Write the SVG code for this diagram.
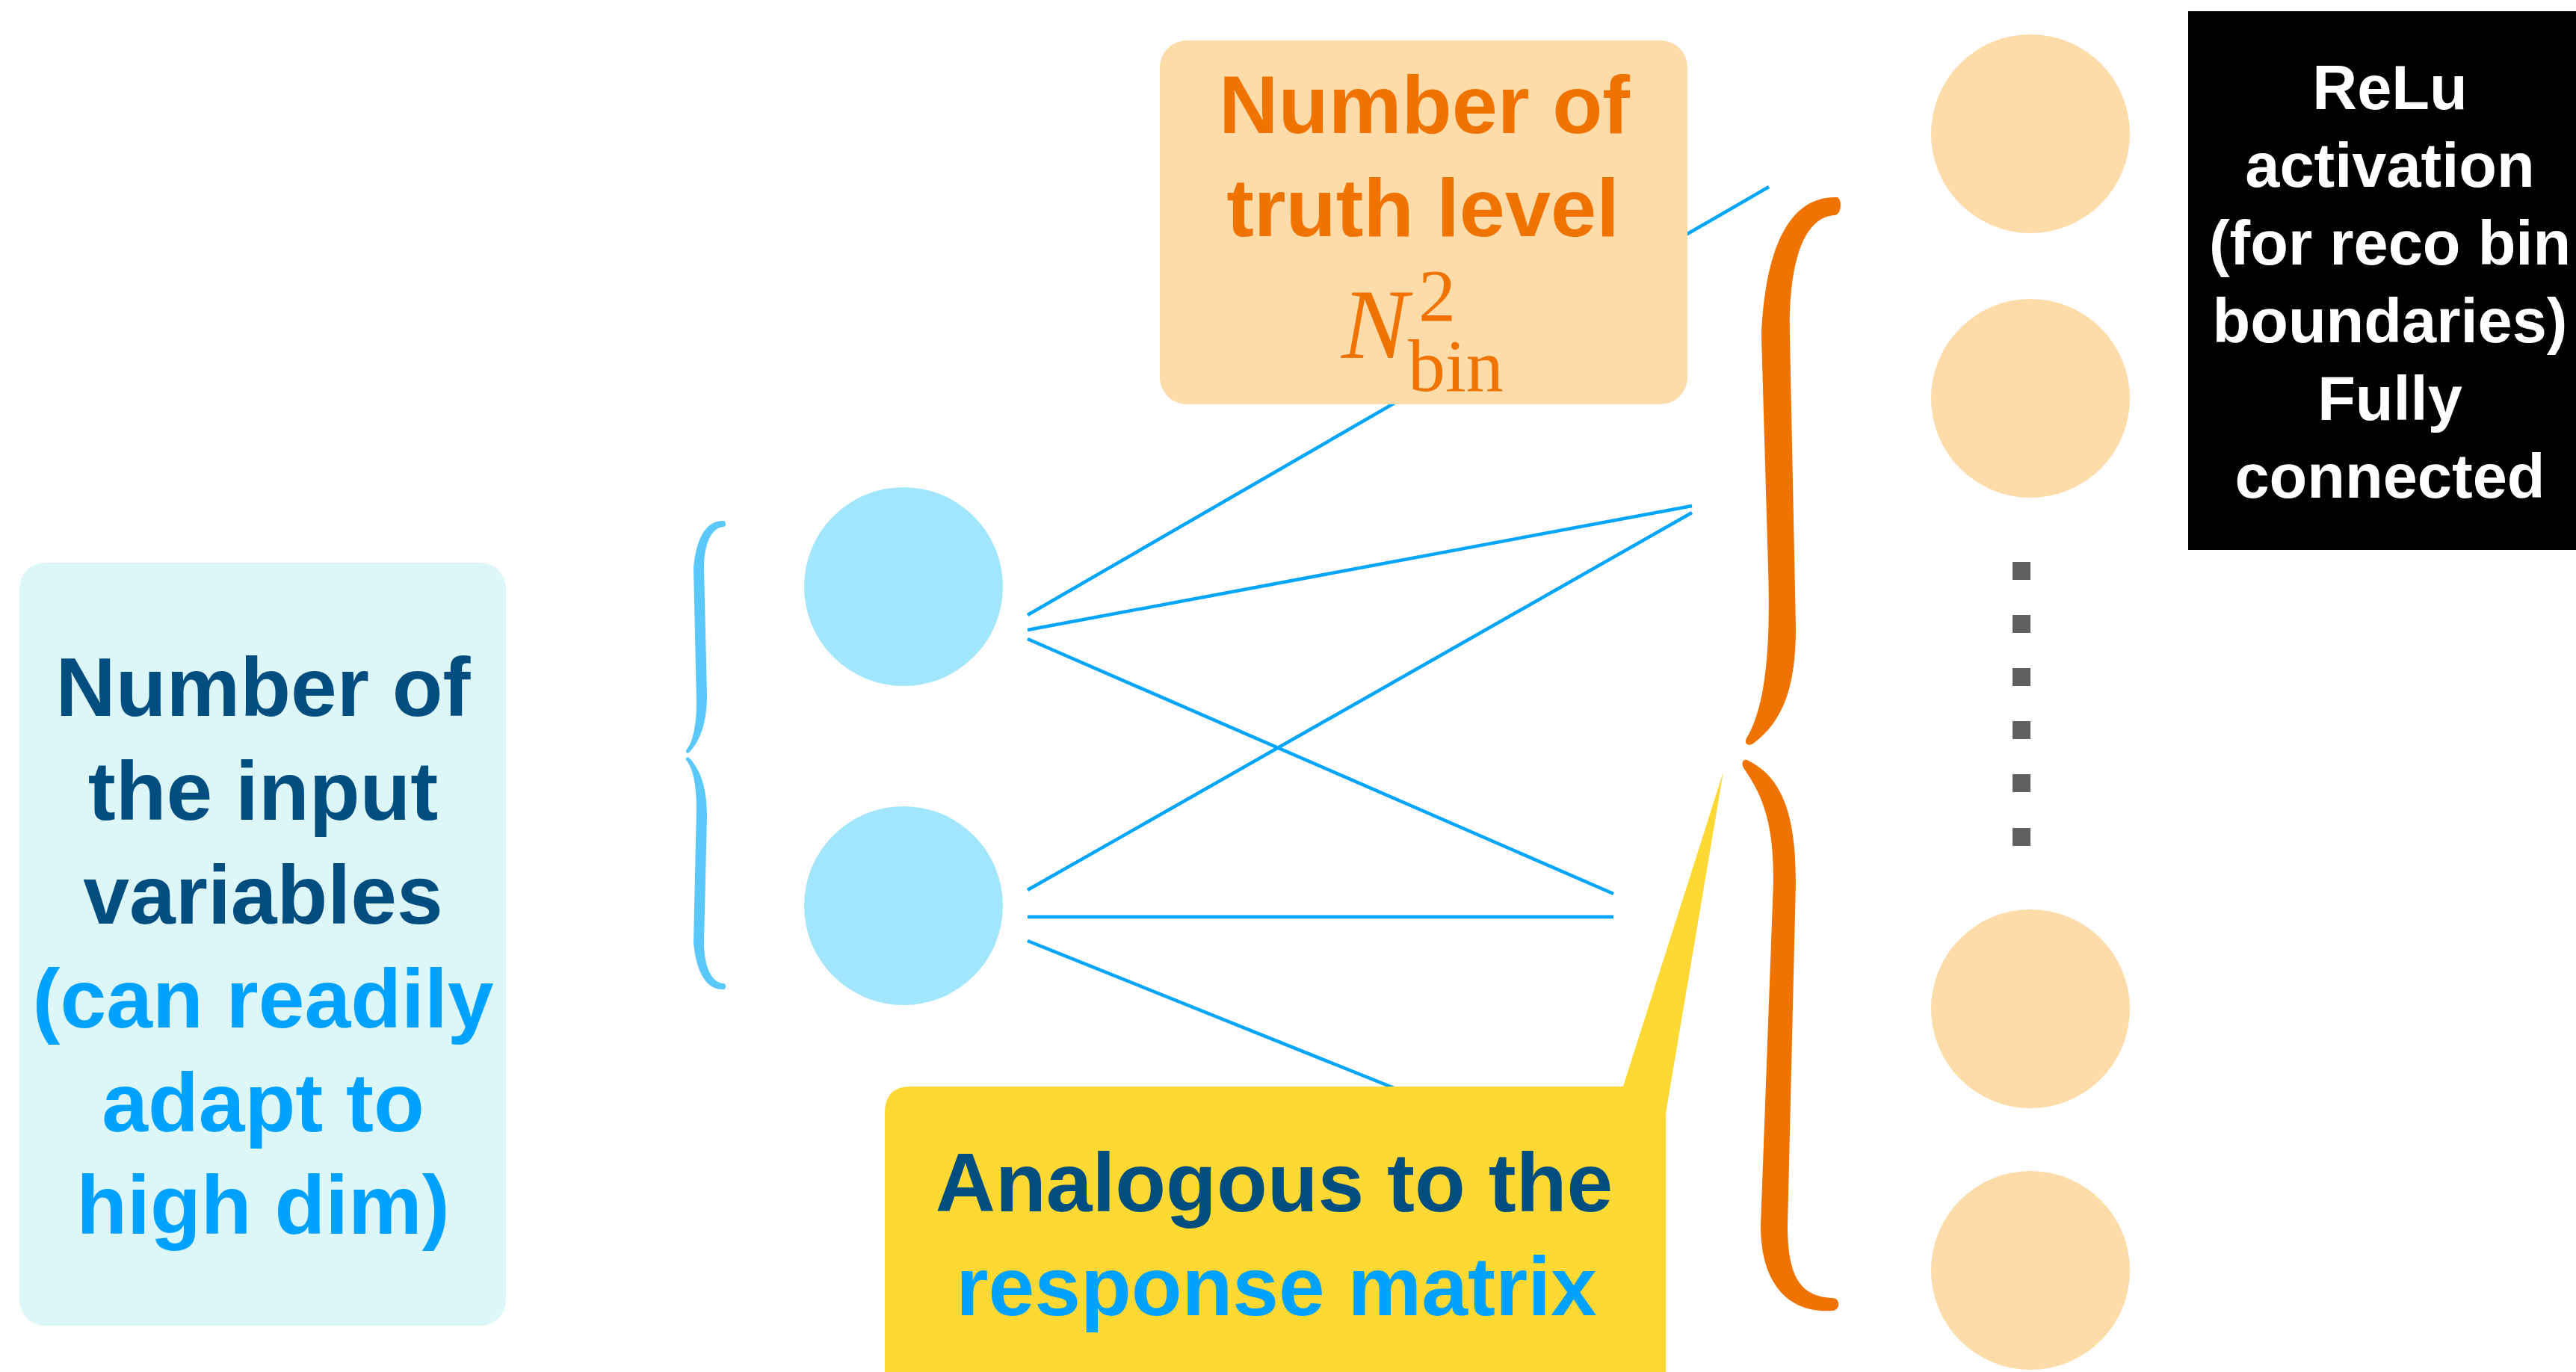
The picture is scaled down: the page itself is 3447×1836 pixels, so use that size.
<svg xmlns="http://www.w3.org/2000/svg" width="3447" height="1836" viewBox="0 0 3447 1836">
  <style>
    .lbl { font-family: "Liberation Sans", Arial, Helvetica, sans-serif; font-weight: bold; text-anchor: middle; }
    .dark { fill: #004D80; }
    .light { fill: #00A2FF; }
    .orange { fill: #F07300; }
    .white { fill: #FFFFFF; }
    .math { font-family: "Liberation Serif", "Times New Roman", serif; fill: #F07300; }
    .wire { stroke: #00A5FF; stroke-width: 4.5; fill: none; }
    .inNode { fill: #A1E6FD; }
    .outNode { fill: #FEDCAA; }
    .dot { fill: #5F5F5F; }
  </style>

  <!-- connections between the two input nodes and the layer -->
  <g id="connectors">
    <line class="wire" x1="1375" y1="823" x2="2367" y2="250"/>
    <line class="wire" x1="1375" y1="843" x2="2264" y2="677"/>
    <line class="wire" x1="1375" y1="855" x2="2159" y2="1196"/>
    <line class="wire" x1="1375" y1="1191" x2="2264" y2="686"/>
    <line class="wire" x1="1375" y1="1227" x2="2159" y2="1227"/>
    <line class="wire" x1="1375" y1="1259" x2="2159" y2="1574"/>
  </g>

  <!-- left info box -->
  <g id="input-label">
    <rect x="26" y="753" width="651" height="1021" rx="34" ry="34" fill="#DDF6F8"/>
    <text class="lbl dark" font-size="111" x="352" y="958">Number of</text>
    <text class="lbl dark" font-size="111" x="352" y="1097">the input</text>
    <text class="lbl dark" font-size="111" x="352" y="1236">variables</text>
    <text class="lbl light" font-size="111" x="352" y="1375">(can readily</text>
    <text class="lbl light" font-size="111" x="352" y="1514">adapt to</text>
    <text class="lbl light" font-size="111" x="352" y="1651">high dim)</text>
  </g>

  <!-- thin brace grouping the inputs -->
  <g id="input-brace" fill="#5AC8FA">
    <path d="M 968 697 C 948 696 932 715 928 760 L 932 940 C 932 975 926 995 918 1004 C 917 1008 921 1009 923 1006 C 938 990 946 965 946 930 L 942 760 C 942 728 952 706 968 705 C 972 705 972 697 968 697 Z"/>
    <path d="M 968 1324 C 948 1325 932 1306 928 1261 L 932 1081 C 932 1046 926 1026 918 1017 C 917 1013 921 1012 923 1015 C 938 1031 946 1056 946 1091 L 942 1261 C 942 1293 952 1315 968 1316 C 972 1316 972 1324 968 1324 Z"/>
  </g>

  <!-- input nodes -->
  <g id="input-node-1"><circle class="inNode" cx="1209" cy="785" r="133"/></g>
  <g id="input-node-2"><circle class="inNode" cx="1209" cy="1212" r="133"/></g>

  <!-- truth-level count box -->
  <g id="truth-label">
    <rect x="1552" y="54" width="706" height="487" rx="36" ry="36" fill="#FDDCA9"/>
    <text class="lbl orange" font-size="110" x="1906" y="178">Number of</text>
    <text class="lbl orange" font-size="110" x="1904" y="316">truth level</text>
    <text class="math" x="1795" y="479"><tspan font-style="italic" font-size="134">N</tspan><tspan font-size="100" x="1898" y="429">2</tspan><tspan font-size="100" x="1884" y="523">bin</tspan></text>
  </g>

  <!-- callout about the response matrix -->
  <g id="matrix-label">
    <polygon points="2170,1460 2306,1033 2229,1490" fill="#FED833"/>
    <path d="M 1219 1454 L 2194 1454 Q 2229 1454 2229 1489 L 2229 1836 L 1184 1836 L 1184 1489 Q 1184 1454 1219 1454 Z" fill="#FED833"/>
    <text class="lbl dark" font-size="111" x="1705" y="1621">Analogous to the</text>
    <text class="lbl light" font-size="111" x="1708" y="1760">response matrix</text>
  </g>

  <!-- thick brace grouping the layer outputs -->
  <g id="layer-brace" fill="#F07300">
    <path d="M 2458 264 C 2395 262 2362 330 2357 450 L 2366 760 C 2370 880 2360 950 2337 988 C 2333 996 2340 999 2346 995 C 2386 965 2403 920 2403 840 L 2395 450 C 2393 340 2418 290 2455 288 C 2465 287 2465 265 2458 264 Z"/>
    <path d="M 2338 1017 C 2385 1040 2403 1090 2403 1180 L 2392 1640 C 2392 1710 2410 1735 2452 1737 C 2463 1737 2463 1753 2452 1754 C 2395 1758 2356 1720 2356 1640 L 2373 1180 C 2374 1095 2355 1060 2334 1029 C 2329 1022 2332 1015 2338 1017 Z"/>
  </g>

  <!-- output layer nodes -->
  <g id="output-node-1"><circle class="outNode" cx="2717" cy="179" r="133"/></g>
  <g id="output-node-2"><circle class="outNode" cx="2717" cy="533" r="133"/></g>
  <g id="output-ellipsis">
    <rect class="dot" x="2693" y="752" width="24" height="24"/>
    <rect class="dot" x="2693" y="823" width="24" height="24"/>
    <rect class="dot" x="2693" y="894" width="24" height="24"/>
    <rect class="dot" x="2693" y="965" width="24" height="24"/>
    <rect class="dot" x="2693" y="1036" width="24" height="24"/>
    <rect class="dot" x="2693" y="1108" width="24" height="24"/>
  </g>
  <g id="output-node-3"><circle class="outNode" cx="2717" cy="1350" r="133"/></g>
  <g id="output-node-4"><circle class="outNode" cx="2717" cy="1700" r="133"/></g>

  <!-- activation note -->
  <g id="activation-label">
    <rect x="2928" y="15" width="519" height="721" fill="#000000"/>
    <text class="lbl white" font-size="83" x="3198" y="146">ReLu</text>
    <text class="lbl white" font-size="83" x="3198" y="250">activation</text>
    <text class="lbl white" font-size="83" x="3198" y="354">(for reco bin</text>
    <text class="lbl white" font-size="83" x="3198" y="458">boundaries)</text>
    <text class="lbl white" font-size="83" x="3198" y="562">Fully</text>
    <text class="lbl white" font-size="83" x="3198" y="666">connected</text>
  </g>
</svg>
